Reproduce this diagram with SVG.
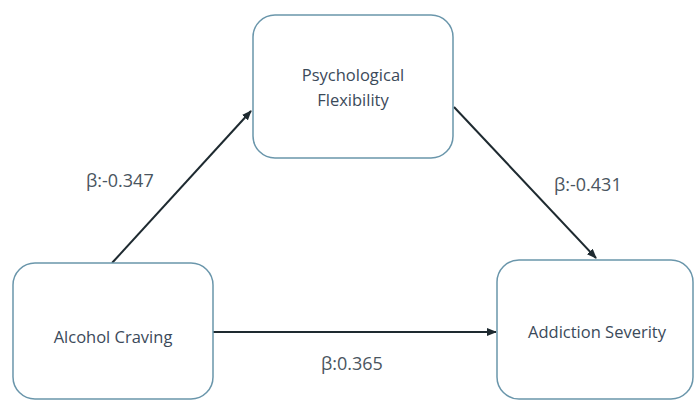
<svg xmlns="http://www.w3.org/2000/svg" width="694" height="400" viewBox="0 0 694 400">
<defs>
<marker id="ah" markerWidth="10" markerHeight="8" refX="9" refY="4" orient="auto" markerUnits="userSpaceOnUse">
<path d="M0,0 L10,4 L0,8 Z" fill="#1e2a30"/>
</marker>
<style>
.box{fill:#ffffff;stroke:#6a96ab;stroke-width:1.5}
.lbl{font-family:"Open Sans","Noto Sans",sans-serif;font-size:16.5px;fill:#3b4a5a;text-anchor:middle}
.coef{font-family:"Open Sans","Noto Sans",sans-serif;font-size:18px;fill:#4a5560}
.edge{stroke:#1e2a30;stroke-width:2;fill:none;marker-end:url(#ah)}
</style>
</defs>
<rect width="694" height="400" fill="#ffffff"/>
<g id="connectors">
<line class="edge" x1="112" y1="263" x2="251" y2="111"/>
<line class="edge" x1="454" y1="107" x2="596" y2="258"/>
<line class="edge" x1="213" y1="332" x2="496" y2="332"/>
</g>
<g id="node-psych">
<rect class="box" x="253" y="15" width="200" height="143" rx="22"/>
<text class="lbl" x="353" y="81">Psychological</text>
<text class="lbl" x="353" y="106">Flexibility</text>
</g>
<g id="node-alcohol">
<rect class="box" x="13" y="263" width="200" height="136" rx="22"/>
<text class="lbl" x="113" y="343">Alcohol Craving</text>
</g>
<g id="node-addiction">
<rect class="box" x="497" y="260" width="196" height="139" rx="22"/>
<text class="lbl" x="597" y="338">Addiction Severity</text>
</g>
<g id="labels">
<text class="coef" x="86" y="187">β:-0.347</text>
<text class="coef" x="554" y="191">β:-0.431</text>
<text class="coef" x="321" y="370">β:0.365</text>
</g>
</svg>
